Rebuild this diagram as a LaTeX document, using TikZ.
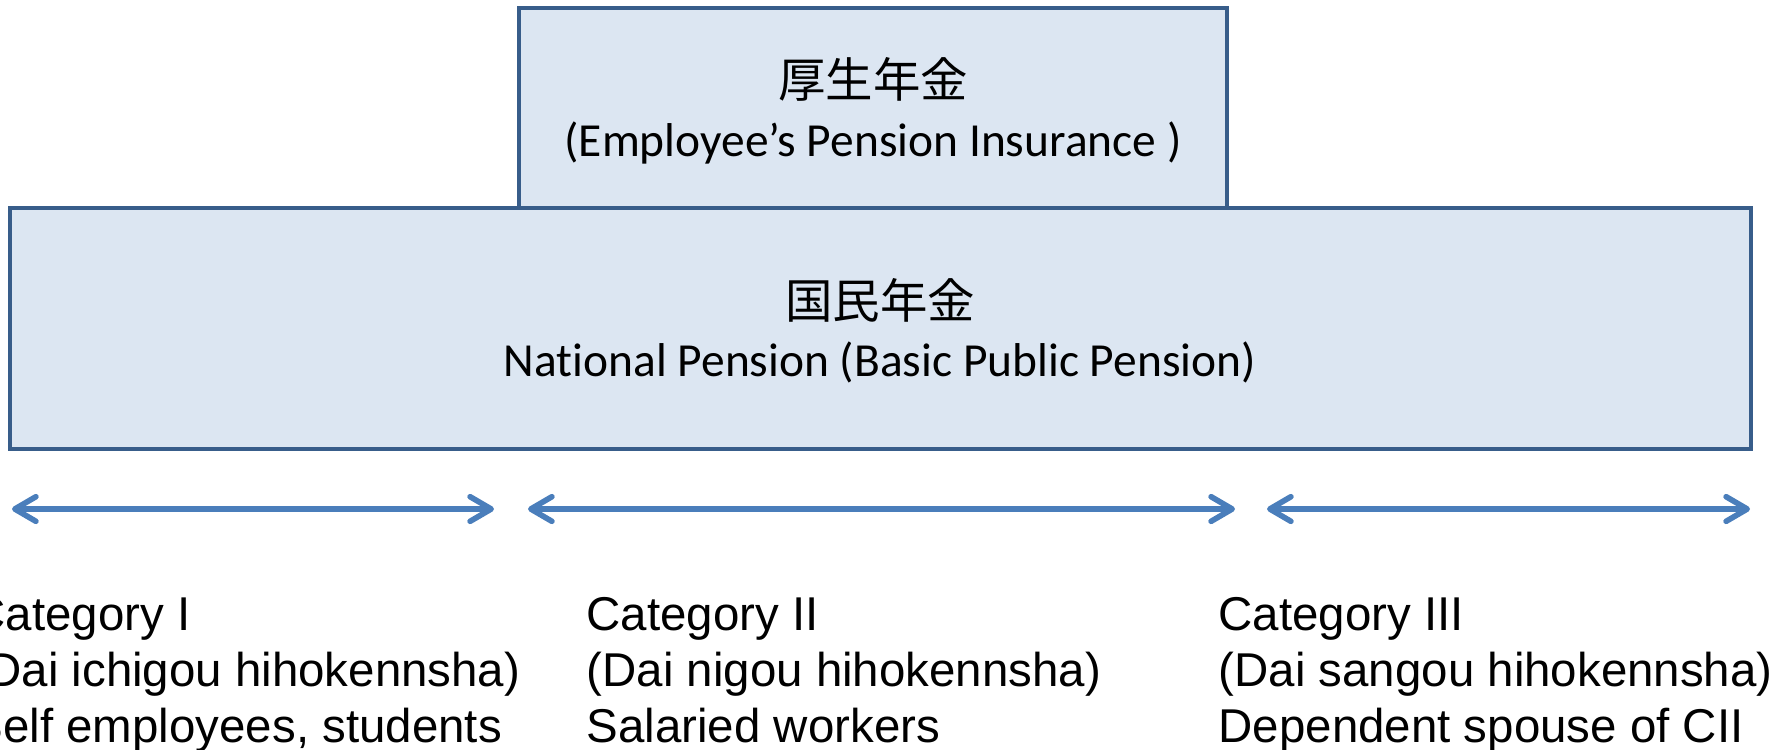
\documentclass[tikz,border=0pt]{standalone}
\usepackage{fontspec}
\setmainfont{Carlito}[Ligatures=NoCommon]
\newfontfamily\cjk{Noto Sans CJK JP}
\newfontfamily\arialf{Liberation Sans}
\usetikzlibrary{arrows.meta}
\definecolor{boxfill}{HTML}{DCE6F2}
\definecolor{boxline}{HTML}{385D8A}
\definecolor{arrowc}{HTML}{4A7EBB}
\tikzset{
  pbox/.style={draw=boxline, fill=boxfill, line width=1pt, rectangle, inner sep=0pt},
  jtext/.style={font=\cjk\fontsize{13.5pt}{16pt}\selectfont, inner sep=0pt, anchor=base},
  ltext/.style={font=\fontsize{13.5pt}{16pt}\selectfont, inner sep=0pt, anchor=base},
  cattext/.style={font=\arialf\fontsize{13.5pt}{15.9pt}\selectfont, inner sep=0pt, align=left, anchor=base west},
  barb/.tip={Straight Barb[length=6pt,width=7pt,line cap=round,line join=round]},
  span/.style={draw=arrowc, line width=1.6pt, barb-barb}
}
\begin{document}
\begin{tikzpicture}[x=0.1mm,y=-0.1mm]
\useasboundingbox (0,0) rectangle (1785,749);
% boxes
\node[pbox, minimum width=70.8mm, minimum height=20mm] (kosei) at (873,108) {};
\node[pbox, minimum width=174.1mm, minimum height=24.1mm] (kokumin) at (880.5,328.5) {};
% texts
\node[jtext] (koseij) at (873,97) {厚生年金};
\node[ltext] (koseie) at (873,156) {(Employee’s Pension Insurance )};
\node[jtext] (kokuminj) at (880,318) {国民年金};
\node[ltext] (kokumine) at (880,376) {National Pension (Basic Public Pension)};
% arrows
\coordinate (a1l) at (12,509);  \coordinate (a1r) at (494,509);
\coordinate (a2l) at (528,509); \coordinate (a2r) at (1235,509);
\coordinate (a3l) at (1267,509);\coordinate (a3r) at (1750,509);
\draw[span] (a1l) -- (a1r);
\draw[span] (a2l) -- (a2r);
\draw[span] (a3l) -- (a3r);
% categories (anchor = baseline of last line)
\node[cattext] (cat1) at (-29,742) {Category I\\(Dai ichigou hihokennsha)\\Self employees, students};
\node[cattext] (cat2) at (586,742) {Category II\\(Dai nigou hihokennsha)\\Salaried workers};
\node[cattext] (cat3) at (1218,742) {Category III\\(Dai sangou hihokennsha)\\Dependent spouse of CII};
\end{tikzpicture}
\end{document}
